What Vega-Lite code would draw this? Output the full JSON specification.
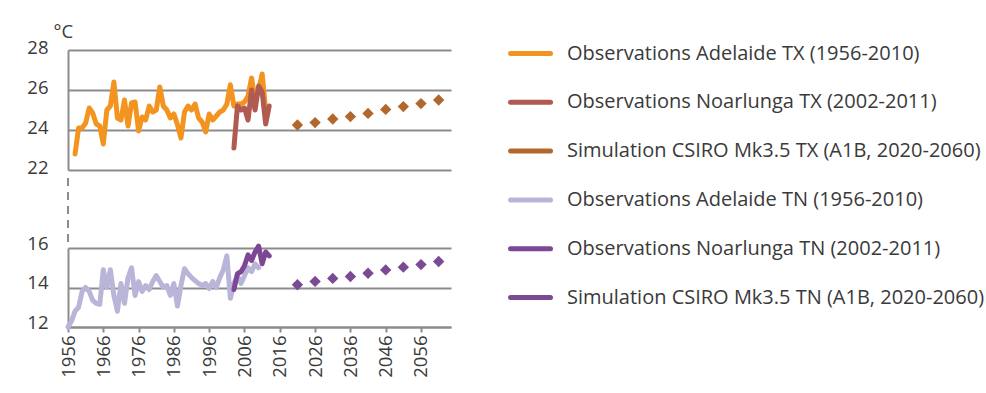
{
  "$schema": "https://vega.github.io/schema/vega-lite/v6.json",
  "background": "white",
  "padding": {"left": 26, "top": 22, "right": 0, "bottom": 0},
  "config": {
    "font": "Open Sans",
    "view": {"stroke": null},
    "axis": {
      "labelFont": "Open Sans",
      "labelFontSize": 18.5,
      "labelColor": "#3a3a3a",
      "domainColor": "#8c8c8c",
      "domainWidth": 2,
      "gridColor": "#8c8c8c",
      "gridWidth": 2,
      "gridOpacity": 1,
      "tickColor": "#8c8c8c",
      "tickWidth": 2
    },
    "legend": {
      "title": null,
      "orient": "none",
      "legendX": 440,
      "legendY": -19,
      "padding": 0,
      "symbolSize": 1600,
      "symbolType": "stroke",
      "symbolStrokeWidth": 5,
      "rowPadding": 15.8,
      "labelOffset": 14,
      "labelLimit": 600,
      "labelFont": "Open Sans",
      "labelFontSize": 20,
      "labelColor": "#3a3a3a",
      "labelBaseline": "middle"
    }
  },
  "datasets": {
    "tx_obs": [
      {"series": "Observations Adelaide TX (1956-2010)", "year": 1958, "temp": 22.8},
      {"series": "Observations Adelaide TX (1956-2010)", "year": 1959, "temp": 24.1},
      {"series": "Observations Adelaide TX (1956-2010)", "year": 1960, "temp": 24.1},
      {"series": "Observations Adelaide TX (1956-2010)", "year": 1961, "temp": 24.35},
      {"series": "Observations Adelaide TX (1956-2010)", "year": 1962, "temp": 25.1},
      {"series": "Observations Adelaide TX (1956-2010)", "year": 1963, "temp": 24.85},
      {"series": "Observations Adelaide TX (1956-2010)", "year": 1964, "temp": 24.3},
      {"series": "Observations Adelaide TX (1956-2010)", "year": 1965, "temp": 24.2},
      {"series": "Observations Adelaide TX (1956-2010)", "year": 1966, "temp": 23.3},
      {"series": "Observations Adelaide TX (1956-2010)", "year": 1967, "temp": 25.0},
      {"series": "Observations Adelaide TX (1956-2010)", "year": 1968, "temp": 25.2},
      {"series": "Observations Adelaide TX (1956-2010)", "year": 1969, "temp": 26.4},
      {"series": "Observations Adelaide TX (1956-2010)", "year": 1970, "temp": 24.6},
      {"series": "Observations Adelaide TX (1956-2010)", "year": 1971, "temp": 24.5},
      {"series": "Observations Adelaide TX (1956-2010)", "year": 1972, "temp": 25.5},
      {"series": "Observations Adelaide TX (1956-2010)", "year": 1973, "temp": 24.2},
      {"series": "Observations Adelaide TX (1956-2010)", "year": 1974, "temp": 25.35},
      {"series": "Observations Adelaide TX (1956-2010)", "year": 1975, "temp": 25.4},
      {"series": "Observations Adelaide TX (1956-2010)", "year": 1976, "temp": 23.95},
      {"series": "Observations Adelaide TX (1956-2010)", "year": 1977, "temp": 24.65},
      {"series": "Observations Adelaide TX (1956-2010)", "year": 1978, "temp": 24.5},
      {"series": "Observations Adelaide TX (1956-2010)", "year": 1979, "temp": 25.2},
      {"series": "Observations Adelaide TX (1956-2010)", "year": 1980, "temp": 24.9},
      {"series": "Observations Adelaide TX (1956-2010)", "year": 1981, "temp": 25.0},
      {"series": "Observations Adelaide TX (1956-2010)", "year": 1982, "temp": 26.15},
      {"series": "Observations Adelaide TX (1956-2010)", "year": 1983, "temp": 25.2},
      {"series": "Observations Adelaide TX (1956-2010)", "year": 1984, "temp": 25.0},
      {"series": "Observations Adelaide TX (1956-2010)", "year": 1985, "temp": 24.6},
      {"series": "Observations Adelaide TX (1956-2010)", "year": 1986, "temp": 24.8},
      {"series": "Observations Adelaide TX (1956-2010)", "year": 1987, "temp": 24.27},
      {"series": "Observations Adelaide TX (1956-2010)", "year": 1988, "temp": 23.6},
      {"series": "Observations Adelaide TX (1956-2010)", "year": 1989, "temp": 24.9},
      {"series": "Observations Adelaide TX (1956-2010)", "year": 1990, "temp": 25.2},
      {"series": "Observations Adelaide TX (1956-2010)", "year": 1991, "temp": 25.0},
      {"series": "Observations Adelaide TX (1956-2010)", "year": 1992, "temp": 25.3},
      {"series": "Observations Adelaide TX (1956-2010)", "year": 1993, "temp": 24.6},
      {"series": "Observations Adelaide TX (1956-2010)", "year": 1994, "temp": 24.4},
      {"series": "Observations Adelaide TX (1956-2010)", "year": 1995, "temp": 23.9},
      {"series": "Observations Adelaide TX (1956-2010)", "year": 1996, "temp": 24.8},
      {"series": "Observations Adelaide TX (1956-2010)", "year": 1997, "temp": 24.5},
      {"series": "Observations Adelaide TX (1956-2010)", "year": 1998, "temp": 24.7},
      {"series": "Observations Adelaide TX (1956-2010)", "year": 1999, "temp": 24.9},
      {"series": "Observations Adelaide TX (1956-2010)", "year": 2000, "temp": 25.0},
      {"series": "Observations Adelaide TX (1956-2010)", "year": 2001, "temp": 25.3},
      {"series": "Observations Adelaide TX (1956-2010)", "year": 2002, "temp": 26.26},
      {"series": "Observations Adelaide TX (1956-2010)", "year": 2003, "temp": 25.2},
      {"series": "Observations Adelaide TX (1956-2010)", "year": 2004, "temp": 25.3},
      {"series": "Observations Adelaide TX (1956-2010)", "year": 2005, "temp": 25.3},
      {"series": "Observations Adelaide TX (1956-2010)", "year": 2006, "temp": 25.4},
      {"series": "Observations Adelaide TX (1956-2010)", "year": 2007, "temp": 25.7},
      {"series": "Observations Adelaide TX (1956-2010)", "year": 2008, "temp": 26.6},
      {"series": "Observations Adelaide TX (1956-2010)", "year": 2009, "temp": 25.5},
      {"series": "Observations Adelaide TX (1956-2010)", "year": 2010, "temp": 26.0},
      {"series": "Observations Adelaide TX (1956-2010)", "year": 2011, "temp": 26.8},
      {"series": "Observations Adelaide TX (1956-2010)", "year": 2012, "temp": 25.0},
      {"series": "Observations Noarlunga TX (2002-2011)", "year": 2003, "temp": 23.1},
      {"series": "Observations Noarlunga TX (2002-2011)", "year": 2004, "temp": 25.2},
      {"series": "Observations Noarlunga TX (2002-2011)", "year": 2005, "temp": 25.0},
      {"series": "Observations Noarlunga TX (2002-2011)", "year": 2006, "temp": 25.1},
      {"series": "Observations Noarlunga TX (2002-2011)", "year": 2007, "temp": 24.5},
      {"series": "Observations Noarlunga TX (2002-2011)", "year": 2008, "temp": 26.0},
      {"series": "Observations Noarlunga TX (2002-2011)", "year": 2009, "temp": 25.0},
      {"series": "Observations Noarlunga TX (2002-2011)", "year": 2010, "temp": 26.2},
      {"series": "Observations Noarlunga TX (2002-2011)", "year": 2011, "temp": 25.9},
      {"series": "Observations Noarlunga TX (2002-2011)", "year": 2012, "temp": 24.3},
      {"series": "Observations Noarlunga TX (2002-2011)", "year": 2013, "temp": 25.2}
    ],
    "tx_sim": [
      {"series": "Simulation CSIRO Mk3.5 TX  (A1B, 2020-2060)", "year": 2021, "temp": 24.25},
      {"series": "Simulation CSIRO Mk3.5 TX  (A1B, 2020-2060)", "year": 2026, "temp": 24.37},
      {"series": "Simulation CSIRO Mk3.5 TX  (A1B, 2020-2060)", "year": 2031, "temp": 24.55},
      {"series": "Simulation CSIRO Mk3.5 TX  (A1B, 2020-2060)", "year": 2036, "temp": 24.67},
      {"series": "Simulation CSIRO Mk3.5 TX  (A1B, 2020-2060)", "year": 2041, "temp": 24.83},
      {"series": "Simulation CSIRO Mk3.5 TX  (A1B, 2020-2060)", "year": 2046, "temp": 25.03},
      {"series": "Simulation CSIRO Mk3.5 TX  (A1B, 2020-2060)", "year": 2051, "temp": 25.17},
      {"series": "Simulation CSIRO Mk3.5 TX  (A1B, 2020-2060)", "year": 2056, "temp": 25.32},
      {"series": "Simulation CSIRO Mk3.5 TX  (A1B, 2020-2060)", "year": 2061, "temp": 25.5}
    ],
    "tn_obs": [
      {"series": "Observations Adelaide TN (1956-2010)", "year": 1956, "temp": 12.0},
      {"series": "Observations Adelaide TN (1956-2010)", "year": 1957, "temp": 12.3},
      {"series": "Observations Adelaide TN (1956-2010)", "year": 1958, "temp": 12.8},
      {"series": "Observations Adelaide TN (1956-2010)", "year": 1959, "temp": 13.0},
      {"series": "Observations Adelaide TN (1956-2010)", "year": 1960, "temp": 13.8},
      {"series": "Observations Adelaide TN (1956-2010)", "year": 1961, "temp": 14.0},
      {"series": "Observations Adelaide TN (1956-2010)", "year": 1962, "temp": 13.8},
      {"series": "Observations Adelaide TN (1956-2010)", "year": 1963, "temp": 13.35},
      {"series": "Observations Adelaide TN (1956-2010)", "year": 1964, "temp": 13.2},
      {"series": "Observations Adelaide TN (1956-2010)", "year": 1965, "temp": 13.15},
      {"series": "Observations Adelaide TN (1956-2010)", "year": 1966, "temp": 14.9},
      {"series": "Observations Adelaide TN (1956-2010)", "year": 1967, "temp": 14.0},
      {"series": "Observations Adelaide TN (1956-2010)", "year": 1968, "temp": 14.9},
      {"series": "Observations Adelaide TN (1956-2010)", "year": 1969, "temp": 13.6},
      {"series": "Observations Adelaide TN (1956-2010)", "year": 1970, "temp": 12.8},
      {"series": "Observations Adelaide TN (1956-2010)", "year": 1971, "temp": 14.2},
      {"series": "Observations Adelaide TN (1956-2010)", "year": 1972, "temp": 13.2},
      {"series": "Observations Adelaide TN (1956-2010)", "year": 1973, "temp": 14.5},
      {"series": "Observations Adelaide TN (1956-2010)", "year": 1974, "temp": 15.0},
      {"series": "Observations Adelaide TN (1956-2010)", "year": 1975, "temp": 13.6},
      {"series": "Observations Adelaide TN (1956-2010)", "year": 1976, "temp": 14.3},
      {"series": "Observations Adelaide TN (1956-2010)", "year": 1977, "temp": 13.8},
      {"series": "Observations Adelaide TN (1956-2010)", "year": 1978, "temp": 14.1},
      {"series": "Observations Adelaide TN (1956-2010)", "year": 1979, "temp": 13.9},
      {"series": "Observations Adelaide TN (1956-2010)", "year": 1980, "temp": 14.3},
      {"series": "Observations Adelaide TN (1956-2010)", "year": 1981, "temp": 14.6},
      {"series": "Observations Adelaide TN (1956-2010)", "year": 1982, "temp": 14.3},
      {"series": "Observations Adelaide TN (1956-2010)", "year": 1983, "temp": 14.0},
      {"series": "Observations Adelaide TN (1956-2010)", "year": 1984, "temp": 14.1},
      {"series": "Observations Adelaide TN (1956-2010)", "year": 1985, "temp": 13.6},
      {"series": "Observations Adelaide TN (1956-2010)", "year": 1986, "temp": 14.2},
      {"series": "Observations Adelaide TN (1956-2010)", "year": 1987, "temp": 13.06},
      {"series": "Observations Adelaide TN (1956-2010)", "year": 1988, "temp": 14.1},
      {"series": "Observations Adelaide TN (1956-2010)", "year": 1989, "temp": 14.95},
      {"series": "Observations Adelaide TN (1956-2010)", "year": 1990, "temp": 14.7},
      {"series": "Observations Adelaide TN (1956-2010)", "year": 1991, "temp": 14.5},
      {"series": "Observations Adelaide TN (1956-2010)", "year": 1992, "temp": 14.35},
      {"series": "Observations Adelaide TN (1956-2010)", "year": 1993, "temp": 14.2},
      {"series": "Observations Adelaide TN (1956-2010)", "year": 1994, "temp": 14.1},
      {"series": "Observations Adelaide TN (1956-2010)", "year": 1995, "temp": 14.2},
      {"series": "Observations Adelaide TN (1956-2010)", "year": 1996, "temp": 13.95},
      {"series": "Observations Adelaide TN (1956-2010)", "year": 1997, "temp": 14.3},
      {"series": "Observations Adelaide TN (1956-2010)", "year": 1998, "temp": 14.0},
      {"series": "Observations Adelaide TN (1956-2010)", "year": 1999, "temp": 14.5},
      {"series": "Observations Adelaide TN (1956-2010)", "year": 2000, "temp": 14.9},
      {"series": "Observations Adelaide TN (1956-2010)", "year": 2001, "temp": 15.6},
      {"series": "Observations Adelaide TN (1956-2010)", "year": 2002, "temp": 13.45},
      {"series": "Observations Adelaide TN (1956-2010)", "year": 2003, "temp": 14.2},
      {"series": "Observations Adelaide TN (1956-2010)", "year": 2004, "temp": 14.6},
      {"series": "Observations Adelaide TN (1956-2010)", "year": 2005, "temp": 14.2},
      {"series": "Observations Adelaide TN (1956-2010)", "year": 2006, "temp": 14.6},
      {"series": "Observations Adelaide TN (1956-2010)", "year": 2007, "temp": 15.0},
      {"series": "Observations Adelaide TN (1956-2010)", "year": 2008, "temp": 14.8},
      {"series": "Observations Adelaide TN (1956-2010)", "year": 2009, "temp": 15.2},
      {"series": "Observations Adelaide TN (1956-2010)", "year": 2010, "temp": 15.0},
      {"series": "Observations Noarlunga TN (2002-2011)", "year": 2003, "temp": 13.9},
      {"series": "Observations Noarlunga TN (2002-2011)", "year": 2004, "temp": 14.7},
      {"series": "Observations Noarlunga TN (2002-2011)", "year": 2005, "temp": 14.8},
      {"series": "Observations Noarlunga TN (2002-2011)", "year": 2006, "temp": 15.1},
      {"series": "Observations Noarlunga TN (2002-2011)", "year": 2007, "temp": 15.65},
      {"series": "Observations Noarlunga TN (2002-2011)", "year": 2008, "temp": 15.37},
      {"series": "Observations Noarlunga TN (2002-2011)", "year": 2009, "temp": 15.8},
      {"series": "Observations Noarlunga TN (2002-2011)", "year": 2010, "temp": 16.1},
      {"series": "Observations Noarlunga TN (2002-2011)", "year": 2011, "temp": 15.2},
      {"series": "Observations Noarlunga TN (2002-2011)", "year": 2012, "temp": 15.8},
      {"series": "Observations Noarlunga TN (2002-2011)", "year": 2013, "temp": 15.6}
    ],
    "tn_sim": [
      {"series": "Simulation CSIRO Mk3.5 TN (A1B, 2020-2060)", "year": 2021, "temp": 14.14},
      {"series": "Simulation CSIRO Mk3.5 TN (A1B, 2020-2060)", "year": 2026, "temp": 14.31},
      {"series": "Simulation CSIRO Mk3.5 TN (A1B, 2020-2060)", "year": 2031, "temp": 14.46},
      {"series": "Simulation CSIRO Mk3.5 TN (A1B, 2020-2060)", "year": 2036, "temp": 14.56},
      {"series": "Simulation CSIRO Mk3.5 TN (A1B, 2020-2060)", "year": 2041, "temp": 14.72},
      {"series": "Simulation CSIRO Mk3.5 TN (A1B, 2020-2060)", "year": 2046, "temp": 14.89},
      {"series": "Simulation CSIRO Mk3.5 TN (A1B, 2020-2060)", "year": 2051, "temp": 15.03},
      {"series": "Simulation CSIRO Mk3.5 TN (A1B, 2020-2060)", "year": 2056, "temp": 15.16},
      {"series": "Simulation CSIRO Mk3.5 TN (A1B, 2020-2060)", "year": 2061, "temp": 15.32}
    ]
  },
  "spacing": 78,
  "bounds": "flush",
  "resolve": {"scale": {"color": "shared"}},
  "vconcat": [
    {
      "width": 383,
      "height": 120,
      "encoding": {
        "x": {"field": "year", "type": "quantitative", "scale": {"domain": [1956, 2064.5], "nice": false, "zero": false}, "axis": null},
        "y": {
          "field": "temp", "type": "quantitative",
          "scale": {"domain": [22, 28], "nice": false, "zero": false},
          "axis": {
            "values": [22, 24, 26, 28], "ticks": false, "labelPadding": 20, "labelOffset": -3, "grid": true,
            "title": "°C", "titleAngle": 0, "titleAlign": "left", "titleBaseline": "alphabetic",
            "titleX": -15, "titleY": -13, "titleFont": "Open Sans", "titleFontSize": 18.5,
            "titleFontWeight": "normal", "titleColor": "#3a3a3a"
          }
        },
        "color": {
          "field": "series", "type": "nominal",
          "scale": {
            "domain": [
              "Observations Adelaide TX (1956-2010)",
              "Observations Noarlunga TX (2002-2011)",
              "Simulation CSIRO Mk3.5 TX  (A1B, 2020-2060)",
              "Observations Adelaide TN (1956-2010)",
              "Observations Noarlunga TN (2002-2011)",
              "Simulation CSIRO Mk3.5 TN (A1B, 2020-2060)"
            ],
            "range": ["#f2941f", "#b05a52", "#b2682c", "#b9b5d9", "#7d4795", "#7b4a94"]
          },
          "legend": {
            "encode": {
              "symbols": {
                "update": {
                  "shape": {"condition": {"test": "indexof(datum.value, 'Simulation') == 0", "value": "diamond"}, "value": "stroke"},
                  "size": {"condition": {"test": "indexof(datum.value, 'Simulation') == 0", "value": 90}, "value": 1600},
                  "strokeWidth": {"condition": {"test": "indexof(datum.value, 'Simulation') == 0", "value": 0}, "value": 5},
                  "fill": {
                    "condition": [
                      {"test": "datum.value == 'Simulation CSIRO Mk3.5 TX  (A1B, 2020-2060)'", "value": "#b2682c"},
                      {"test": "datum.value == 'Simulation CSIRO Mk3.5 TN (A1B, 2020-2060)'", "value": "#7b4a94"}
                    ],
                    "value": "transparent"
                  },
                  "strokeCap": {"value": "round"}
                }
              }
            }
          }
        }
      },
      "layer": [
        {
          "data": {"name": "tx_obs"},
          "mark": {"type": "line", "strokeWidth": 5, "strokeJoin": "round", "strokeCap": "round"}
        },
        {
          "data": {"name": "tx_sim"},
          "mark": {"type": "point", "shape": "diamond", "filled": true, "size": 130, "opacity": 1}
        }
      ]
    },
    {
      "width": 383,
      "height": 79,
      "encoding": {
        "x": {
          "field": "year", "type": "quantitative",
          "scale": {"domain": [1956, 2064.5], "nice": false, "zero": false},
          "axis": {
            "values": [1956, 1966, 1976, 1986, 1996, 2006, 2016, 2026, 2036, 2046, 2056],
            "format": "d", "labelAngle": -90, "tickSize": 5, "labelPadding": 3, "grid": false, "title": null
          }
        },
        "y": {
          "field": "temp", "type": "quantitative",
          "scale": {"domain": [12, 16], "nice": false, "zero": false},
          "axis": {"values": [12, 14, 16], "ticks": false, "labelPadding": 20, "labelOffset": -5, "grid": true, "title": null}
        },
        "color": {
          "field": "series", "type": "nominal",
          "legend": {
            "encode": {
              "symbols": {
                "update": {
                  "shape": {"condition": {"test": "indexof(datum.value, 'Simulation') == 0", "value": "diamond"}, "value": "stroke"},
                  "size": {"condition": {"test": "indexof(datum.value, 'Simulation') == 0", "value": 90}, "value": 1600},
                  "strokeWidth": {"condition": {"test": "indexof(datum.value, 'Simulation') == 0", "value": 0}, "value": 5},
                  "fill": {
                    "condition": [
                      {"test": "datum.value == 'Simulation CSIRO Mk3.5 TX  (A1B, 2020-2060)'", "value": "#b2682c"},
                      {"test": "datum.value == 'Simulation CSIRO Mk3.5 TN (A1B, 2020-2060)'", "value": "#7b4a94"}
                    ],
                    "value": "transparent"
                  },
                  "strokeCap": {"value": "round"}
                }
              }
            }
          }
        }
      },
      "layer": [
        {
          "data": {"name": "tn_sim"},
          "mark": {"type": "rule", "strokeDash": [8, 6], "strokeWidth": 2, "color": "#8c8c8c"},
          "encoding": {
            "x": {"datum": 1956},
            "y": {"datum": 16.3},
            "y2": {"datum": 19.6},
            "color": {"value": "#8c8c8c"}
          }
        },
        {
          "data": {"name": "tn_obs"},
          "mark": {"type": "line", "strokeWidth": 5, "strokeJoin": "round", "strokeCap": "round"}
        },
        {
          "data": {"name": "tn_sim"},
          "mark": {"type": "point", "shape": "diamond", "filled": true, "size": 130, "opacity": 1}
        }
      ]
    }
  ]
}
